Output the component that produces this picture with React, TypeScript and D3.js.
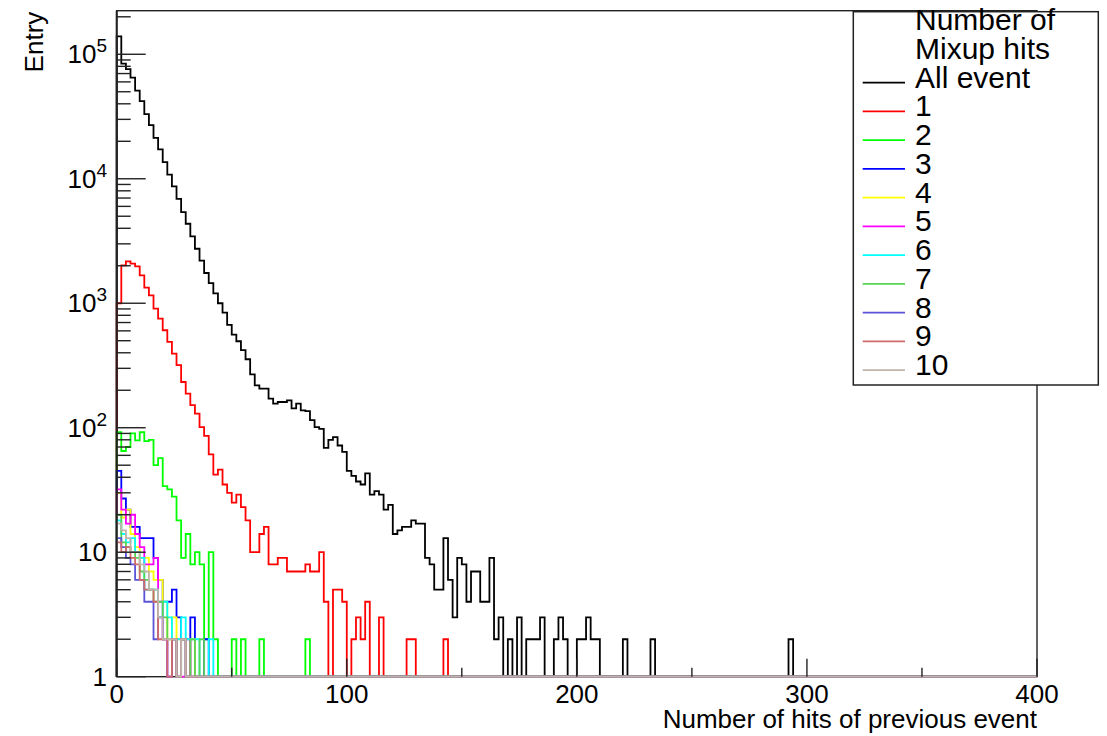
import React, { useEffect, useRef } from 'react';
import * as d3 from 'd3';

// legend entries and line colours
const seriesLabels = ['All event', '1', '2', '3', '4', '5', '6', '7', '8', '9', '10'];
const seriesColors = [
  '#000000', '#ff0000', '#00ff00', '#0000ff', '#ffff00', '#ff00ff',
  '#00ffff', '#59d454', '#5954d9', '#d06a6a', '#c2b4aa',
];
const legendTitle = ['Number of', 'Mixup hits'];

// bin contents, bins of width 2 starting at 0
const allEvent = [
  139000, 84000, 76000, 65000, 51000, 42000, 33000, 27000, 21300, 17200,
  13600, 10800, 8700, 6900, 5400, 4350, 3440, 2740, 2200, 1750,
  1450, 1200, 1000, 840, 670, 560, 495, 420, 355, 268,
  219, 206, 206, 171, 156, 161, 161, 166, 143, 156,
  138, 136, 115, 101, 98, 69, 80, 84, 72, 64,
  45, 41, 37, 35, 43, 29, 31, 29, 22, 24,
  14, 15, 16, 16, 18, 17, 17, 9, 8, 5,
  5, 13, 6, 3, 9, 8, 4, 7, 7, 4,
  4, 9, 2, 3, 1, 2, 1, 3, 1, 2,
  2, 2, 3, 1, 1, 2, 3, 2, 1, 1,
  2, 2, 3, 2, 2, 0, 0, 0, 0, 0,
  2, 0, 0, 0, 0, 0, 2, 0, 0, 0,
  0, 0, 0, 0, 0, 0, 0, 0, 0, 0,
  0, 0, 0, 0, 0, 0, 0, 0, 0, 0,
  0, 0, 0, 0, 0, 0, 2,
];
const mix1 = [
  1000, 2015, 2170, 2080, 1980, 1675, 1334, 1157, 905, 752,
  607, 489, 394, 318, 233, 188, 152, 130, 101, 86,
  61, 42, 46, 35, 30, 25, 29, 23, 18, 10,
  10, 14, 16, 8, 8, 9, 9, 7, 7, 7,
  7, 8, 7, 7, 10, 4, 0, 5, 5, 4,
  0, 2, 3, 2, 4, 0, 0, 3, 0, 0,
  0, 0, 0, 2, 2, 0, 0, 0, 0, 0,
  0, 2,
];
const mix2 = [
  92, 65, 70, 90, 79, 92, 78, 80, 50, 57,
  34, 32, 28, 18, 9, 14, 8, 10, 8, 2,
  10, 2, 0, 0, 0, 2, 0, 2, 0, 0,
  0, 2, 0, 0, 0, 0, 0, 0, 0, 0,
  0, 2,
];
const mix3 = [45, 27, 22, 16, 16, 13, 13, 13, 9, 6, 4, 4, 5, 3, 2, 0, 3, 0, 0, 2];
const mix4 = [30, 19, 22, 14, 11, 9, 9, 7, 6, 6, 4, 2, 3, 2, 2, 1, 2];
const mix5 = [32, 22, 17, 20, 14, 11, 8, 8, 9, 4, 2, 1, 2, 0, 0, 2];
const mix6 = [18, 14, 12, 13, 10, 9, 5, 5, 5, 3, 4, 3, 2, 2, 3, 2, 2, 2, 0, 0, 2];
const mix7 = [20, 12, 11, 10, 9, 7, 6, 5, 4, 4, 3, 2, 2, 1, 2, 1, 2, 0, 2];
const mix8 = [13, 11, 9, 8, 6, 6, 4, 4, 2, 3, 2, 1, 2, 0, 2];
const mix9 = [12, 10, 11, 9, 8, 6, 5, 5, 4, 2, 2, 0, 2, 0, 2];
const mix10 = [17, 15, 13, 10, 10, 8, 7, 5, 5, 3, 2, 2, 2, 1, 2];

const seriesData = [allEvent, mix1, mix2, mix3, mix4, mix5, mix6, mix7, mix8, mix9, mix10];

const xMajorTicks = [0, 100, 200, 300, 400];
const xMinorTicks = [50, 150, 250, 350];
const yMajorTicks = [1, 10, 100, 1000, 10000, 100000];
const yTickLabels = ['1', '10', '10|2', '10|3', '10|4', '10|5'];

const BIN_WIDTH = 2;
const N_BINS = 200;
const FONT = '"Liberation Sans", Arial, Helvetica, sans-serif';

export default function App() {
  const svgRef = useRef<SVGSVGElement>(null);

  useEffect(() => {
    if (!svgRef.current) return;
    const W = 1107, H = 736;
    const left = 116.7, right = 1037, top = 10.7, bottom = 676.7;

    d3.select(svgRef.current).selectAll('*').remove();
    const svg = d3.select(svgRef.current)
      .attr('width', W)
      .attr('height', H)
      .style('font-family', FONT);

    svg.append('rect').attr('width', W).attr('height', H).attr('fill', '#fff');

    const x = d3.scaleLinear().domain([0, 400]).range([left, right]);
    const y = d3.scaleLog().domain([1, Math.pow(10, 5.35)]).range([bottom, top]).clamp(true);

    // Frame
    svg.append('rect')
      .attr('x', left).attr('y', top)
      .attr('width', right - left).attr('height', bottom - top)
      .attr('fill', 'none').attr('stroke', '#222').attr('stroke-width', 1.4);

    // Histograms (step lines, empty bins sit on the y=1 floor)
    const line = d3.line<[number, number]>().x(d => d[0]).y(d => d[1]);
    seriesData.forEach((vals, si) => {
      const pts: [number, number][] = [[x(0), y(1)]];
      for (let i = 0; i < N_BINS; i++) {
        const v = Math.max(vals[i] || 0, 1);
        pts.push([x(i * BIN_WIDTH), y(v)]);
        pts.push([x((i + 1) * BIN_WIDTH), y(v)]);
      }
      pts.push([x(400), y(1)]);
      svg.append('path')
        .attr('d', line(pts))
        .attr('fill', 'none')
        .attr('stroke', seriesColors[si])
        .attr('stroke-width', 1.8);
    });

    // left axis redrawn over the histogram edges
    svg.append('line')
      .attr('x1', left).attr('x2', left).attr('y1', top).attr('y2', bottom)
      .attr('stroke', '#222').attr('stroke-width', 2);

    // Y ticks (major + minor), pointing into the plot
    const yMinor: number[] = [];
    for (let k = 0; k <= 5; k++) {
      for (let m = 2; m <= 9; m++) {
        const v = m * Math.pow(10, k);
        if (v <= y.domain()[1]) yMinor.push(v);
      }
    }
    svg.append('g').selectAll('line').data(yMinor).enter().append('line')
      .attr('x1', left).attr('x2', left + 14)
      .attr('y1', d => y(d)).attr('y2', d => y(d))
      .attr('stroke', '#222').attr('stroke-width', 1.4);
    svg.append('g').selectAll('line').data(yMajorTicks).enter().append('line')
      .attr('x1', left).attr('x2', left + 29)
      .attr('y1', d => y(d)).attr('y2', d => y(d))
      .attr('stroke', '#222').attr('stroke-width', 1.4);

    // Y tick labels
    yMajorTicks.forEach((v, i) => {
      const [base, sup] = yTickLabels[i].split('|');
      const t = svg.append('text')
        .attr('x', 107).attr('y', y(v) + 9)
        .attr('text-anchor', 'end')
        .attr('font-size', 26)
        .attr('fill', '#000')
        .text(base);
      if (sup) {
        t.append('tspan').attr('dy', -11).attr('font-size', 19).text(sup);
      }
    });

    // X ticks
    svg.append('g').selectAll('line').data(xMajorTicks).enter().append('line')
      .attr('x1', d => x(d)).attr('x2', d => x(d))
      .attr('y1', bottom).attr('y2', bottom - 18)
      .attr('stroke', '#222').attr('stroke-width', 1.4);
    svg.append('g').selectAll('line').data(xMinorTicks).enter().append('line')
      .attr('x1', d => x(d)).attr('x2', d => x(d))
      .attr('y1', bottom).attr('y2', bottom - 9)
      .attr('stroke', '#222').attr('stroke-width', 1.4);
    svg.append('g').selectAll('text').data(xMajorTicks).enter().append('text')
      .attr('x', d => x(d)).attr('y', 703)
      .attr('text-anchor', 'middle')
      .attr('font-size', 26)
      .text(d => String(d));

    // Axis titles
    svg.append('text')
      .attr('x', right).attr('y', 728)
      .attr('text-anchor', 'end')
      .attr('font-size', 26)
      .text('Number of hits of previous event');
    svg.append('text')
      .attr('transform', `translate(43,${top + 1}) rotate(-90)`)
      .attr('text-anchor', 'end')
      .attr('font-size', 26)
      .text('Entry');

    // Legend
    const lg = svg.append('g');
    lg.append('rect')
      .attr('x', 853.3).attr('y', 11.7).attr('width', 245).attr('height', 373.3)
      .attr('fill', '#fff').attr('stroke', '#222').attr('stroke-width', 1.5);
    legendTitle.forEach((t, i) => {
      lg.append('text')
        .attr('x', 915).attr('y', 29.8 + i * 28.75)
        .attr('font-size', 30)
        .text(t);
    });
    seriesLabels.forEach((label, i) => {
      const ly = 82.7 + i * 28.75;
      lg.append('line')
        .attr('x1', 862.7).attr('x2', 905)
        .attr('y1', ly).attr('y2', ly)
        .attr('stroke', seriesColors[i]).attr('stroke-width', 1.8);
      lg.append('text')
        .attr('x', 915).attr('y', ly + 4.8)
        .attr('font-size', 30)
        .text(label);
    });
  }, []);

  return <svg ref={svgRef} style={{ position: 'absolute', left: 0, top: 0, display: 'block' }}></svg>;
}
